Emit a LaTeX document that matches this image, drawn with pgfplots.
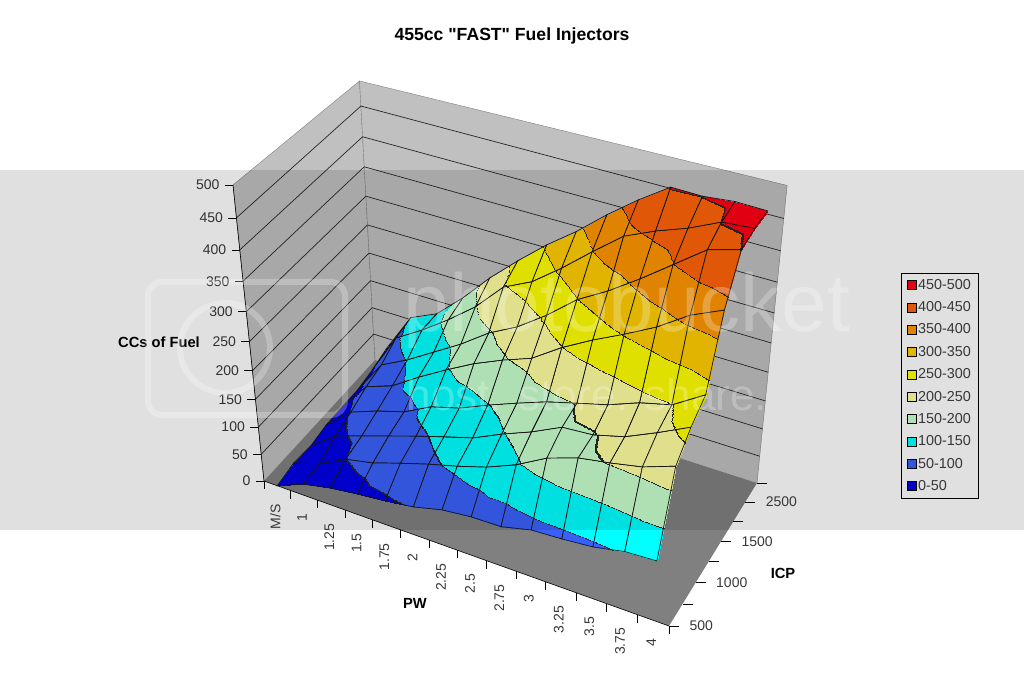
\documentclass[border=0pt]{standalone}
\usepackage{fontspec}
\setmainfont{Liberation Sans}[Ligatures=TeXOff]
\usepackage{pgfplots}
\usepackage{pgfplotstable}
\pgfplotsset{compat=1.18}

\definecolor{wall}{RGB}{192,192,192}
\definecolor{floorgray}{RGB}{128,128,128}
\definecolor{ticktext}{RGB}{55,55,55}

% fuel surface: p = PW category (M/S,1,...,4), q = ICP series, fuel in cc
\pgfplotstableread{
p q fuel
0 7 31
1 7 104
2 7 126
3 7 170
4 7 220
5 7 264
6 7 305
7 7 341
8 7 382
9 7 419
10 7 452
11 7 451
12 7 456
13 7 455
0 6 20
1 6 96
2 6 126
3 6 160
4 6 198
5 6 247
6 6 271
7 6 308
8 6 349
9 6 388
10 6 410
11 6 428
12 6 451
13 6 455
0 5 13
1 5 77
2 5 102
3 5 132
4 5 162
5 5 197
6 5 223
7 5 258
8 5 299
9 5 328
10 5 362
11 5 399
12 5 436
13 5 450
0 4 13
1 4 68
2 4 86
3 4 118
4 4 147
5 4 174
6 4 196
7 4 215
8 4 249
9 4 277
10 4 302
11 4 329
12 4 363
13 4 386
0 3 12
1 3 53
2 3 72
3 3 87
4 3 113
5 3 127
6 3 149
7 3 169
8 3 188
9 3 202
10 3 216
11 3 236
12 3 249
13 3 282
0 2 5
1 2 42
2 2 59
3 2 76
4 2 93
5 2 109
6 2 124
7 2 148
8 2 169
9 2 194
10 2 198
11 2 212
12 2 236
13 2 262
0 1 8
1 1 24
2 1 50
3 1 61
4 1 78
5 1 94
6 1 108
7 1 124
8 1 146
9 1 175
10 1 193
11 1 202
12 1 213
13 1 232
0 0 0
1 0 21
2 0 32
3 0 39
4 0 45
5 0 52
6 0 65
7 0 71
8 0 72
9 0 85
10 0 88
11 0 93
12 0 104
13 0 107
}\fueltable

% wall outlines in box coordinates
\pgfplotstableread{
u v w
0 0 0
0 0 1
0 1 0.98
0 1 0
}\leftwall
\pgfplotstableread{
u v w
0 1 0
0 1 0.98
1 1 1
1 1 0
}\backwall
\pgfplotstableread{
u v w
0 0 0
1 0 0
1 1 0
0 1 0
}\floorpoly
\pgfplotstableread{
u v w
0 0 1
0 0 0
1 0 0
}\axisframe
\pgfplotstableread{
u v
0 0
0 1
1 1
}\gridpath
\pgfplotstableread{
d e
0 0
8 0
}\tickeight
\pgfplotstableread{
d e
0 0
10 0
}\tickten

\begin{document}
\begin{tikzpicture}[declare function={
  den(\u,\v,\w)=1-0.08518*\u+0.07983*\v-0.11*\w;
  sx(\u,\v,\w)=(348.01*\u+140.94*\v-56.63*\w+264)/den(\u,\v,\w);
  sy(\u,\v,\w)=700-(91.68*\u-92.26*\v-316.35*\w+481)/den(\u,\v,\w);
}]
\begin{axis}[
  scale only axis, width=1024pt, height=700pt,
  xmin=0, xmax=1024, ymin=0, ymax=700,
  view={0}{90}, hide axis,
  point meta min=0, point meta max=500,
  colormap={bands}{
    rgb255(0pt)=(0,0,230) rgb255(49.5pt)=(0,0,230)
    rgb255(49.51pt)=(40,40,40) rgb255(50.5pt)=(40,40,40)
    rgb255(50.51pt)=(57,97,250) rgb255(99.5pt)=(57,97,250)
    rgb255(99.51pt)=(40,40,40) rgb255(100.5pt)=(40,40,40)
    rgb255(100.51pt)=(0,255,255) rgb255(149.5pt)=(0,255,255)
    rgb255(149.51pt)=(40,40,40) rgb255(150.5pt)=(40,40,40)
    rgb255(150.51pt)=(200,255,205) rgb255(199.5pt)=(200,255,205)
    rgb255(199.51pt)=(40,40,40) rgb255(200.5pt)=(40,40,40)
    rgb255(200.51pt)=(255,255,160) rgb255(249.5pt)=(255,255,160)
    rgb255(249.51pt)=(40,40,40) rgb255(250.5pt)=(40,40,40)
    rgb255(250.51pt)=(255,255,0) rgb255(299.5pt)=(255,255,0)
    rgb255(299.51pt)=(40,40,40) rgb255(300.5pt)=(40,40,40)
    rgb255(300.51pt)=(255,205,0) rgb255(349.5pt)=(255,205,0)
    rgb255(349.51pt)=(40,40,40) rgb255(350.5pt)=(40,40,40)
    rgb255(350.51pt)=(255,150,0) rgb255(399.5pt)=(255,150,0)
    rgb255(399.51pt)=(40,40,40) rgb255(400.5pt)=(40,40,40)
    rgb255(400.51pt)=(255,100,10) rgb255(449.5pt)=(255,100,10)
    rgb255(449.51pt)=(40,40,40) rgb255(450.5pt)=(40,40,40)
    rgb255(450.51pt)=(255,0,20) rgb255(500pt)=(255,0,20)
  },
  legend style={at={(axis cs:901,427)}, anchor=north west, draw=black, fill={rgb,255:red,224;green,224;blue,224},
    font=\fontsize{14.4}{16}\selectfont, text=ticktext, row sep=6.8pt, inner xsep=5.5pt, inner ysep=4pt,
    legend cell align=left},
  legend image code/.code={\draw[#1] (0pt,-4.5pt) rectangle (9pt,4.5pt);},
]

% keep the page at the full 1024x700
\draw[draw=none] (axis cs:0,0) rectangle (axis cs:1024,700);

% walls and floor
\addplot[forget plot, fill=wall, draw=gray] table[x expr={sx(\thisrow{u},\thisrow{v},\thisrow{w})}, y expr={sy(\thisrow{u},\thisrow{v},\thisrow{w})}] {\leftwall};
\addplot[forget plot, fill=wall, draw=gray] table[x expr={sx(\thisrow{u},\thisrow{v},\thisrow{w})}, y expr={sy(\thisrow{u},\thisrow{v},\thisrow{w})}] {\backwall};
\addplot[forget plot, fill=floorgray, draw=none] table[x expr={sx(\thisrow{u},\thisrow{v},\thisrow{w})}, y expr={sy(\thisrow{u},\thisrow{v},\thisrow{w})}] {\floorpoly};

% value grid on the walls, ticks and labels of the vertical axis
\pgfplotsinvokeforeach{50,100,...,450}{
  \addplot[forget plot, black!85, line width=0.7pt] table[x expr={sx(\thisrow{u},\thisrow{v},#1/500)}, y expr={sy(\thisrow{u},\thisrow{v},#1/500)}] {\gridpath};
}
\pgfplotsinvokeforeach{0,50,...,500}{
  \addplot[forget plot, black, line width=0.6pt] table[x expr={sx(0,0,#1/500)-\thisrow{d}}, y expr={sy(0,0,#1/500)}] {\tickeight};
  \node[anchor=east, text=ticktext, font=\fontsize{14}{16}\selectfont] at (axis cs:{sx(0,0,#1/500)-10},{sy(0,0,#1/500)}) {#1};
}
\addplot[forget plot, black, line width=0.6pt] table[x expr={sx(\thisrow{u},\thisrow{v},\thisrow{w})}, y expr={sy(\thisrow{u},\thisrow{v},\thisrow{w})}] {\axisframe};

% ticks of the two floor axes
\pgfplotsinvokeforeach{0,1,...,14}{
  \addplot[forget plot, black, line width=0.6pt] table[x expr={sx(#1/14,0,0)}, y expr={sy(#1/14,0,0)-\thisrow{d}}] {\tickeight};
}
\pgfplotsinvokeforeach{0,1,...,7}{
  \addplot[forget plot, black, line width=0.6pt] table[x expr={sx(1,#1/7,0)+\thisrow{d}}, y expr={sy(1,#1/7,0)}] {\tickten};
}

% fuel surface
\addplot3[forget plot, surf, shader=faceted interp, faceted color=black!90, line width=0.7pt,
  z buffer=none, mesh/cols=14, mesh/rows=8, point meta=\thisrow{fuel}]
  table[x expr={sx((\thisrow{p}+0.5)/14,\thisrow{q}/7,\thisrow{fuel}/500)},
        y expr={sy((\thisrow{p}+0.5)/14,\thisrow{q}/7,\thisrow{fuel}/500)}, z expr=0] {\fueltable};

% grey band across the middle of the picture
\addplot[forget plot, fill=black, fill opacity=0.12, draw=none] coordinates {(0,170) (1024,170) (1024,530) (0,530)};

% tick labels
\node[anchor=east, rotate=90, text=ticktext, font=\fontsize{14}{16}\selectfont] at (axis cs:{sx(0.5/14,0,0)-2},{sy(0.5/14,0,0)-15}) {M/S};
\node[anchor=east, rotate=90, text=ticktext, font=\fontsize{14}{16}\selectfont] at (axis cs:{sx(1.5/14,0,0)-2},{sy(1.5/14,0,0)-15}) {1};
\node[anchor=east, rotate=90, text=ticktext, font=\fontsize{14}{16}\selectfont] at (axis cs:{sx(2.5/14,0,0)-2},{sy(2.5/14,0,0)-15}) {1.25};
\node[anchor=east, rotate=90, text=ticktext, font=\fontsize{14}{16}\selectfont] at (axis cs:{sx(3.5/14,0,0)-2},{sy(3.5/14,0,0)-15}) {1.5};
\node[anchor=east, rotate=90, text=ticktext, font=\fontsize{14}{16}\selectfont] at (axis cs:{sx(4.5/14,0,0)-2},{sy(4.5/14,0,0)-15}) {1.75};
\node[anchor=east, rotate=90, text=ticktext, font=\fontsize{14}{16}\selectfont] at (axis cs:{sx(5.5/14,0,0)-2},{sy(5.5/14,0,0)-15}) {2};
\node[anchor=east, rotate=90, text=ticktext, font=\fontsize{14}{16}\selectfont] at (axis cs:{sx(6.5/14,0,0)-2},{sy(6.5/14,0,0)-15}) {2.25};
\node[anchor=east, rotate=90, text=ticktext, font=\fontsize{14}{16}\selectfont] at (axis cs:{sx(7.5/14,0,0)-2},{sy(7.5/14,0,0)-15}) {2.5};
\node[anchor=east, rotate=90, text=ticktext, font=\fontsize{14}{16}\selectfont] at (axis cs:{sx(8.5/14,0,0)-2},{sy(8.5/14,0,0)-15}) {2.75};
\node[anchor=east, rotate=90, text=ticktext, font=\fontsize{14}{16}\selectfont] at (axis cs:{sx(9.5/14,0,0)-2},{sy(9.5/14,0,0)-15}) {3};
\node[anchor=east, rotate=90, text=ticktext, font=\fontsize{14}{16}\selectfont] at (axis cs:{sx(10.5/14,0,0)-2},{sy(10.5/14,0,0)-15}) {3.25};
\node[anchor=east, rotate=90, text=ticktext, font=\fontsize{14}{16}\selectfont] at (axis cs:{sx(11.5/14,0,0)-2},{sy(11.5/14,0,0)-15}) {3.5};
\node[anchor=east, rotate=90, text=ticktext, font=\fontsize{14}{16}\selectfont] at (axis cs:{sx(12.5/14,0,0)-2},{sy(12.5/14,0,0)-15}) {3.75};
\node[anchor=east, rotate=90, text=ticktext, font=\fontsize{14}{16}\selectfont] at (axis cs:{sx(13.5/14,0,0)-2},{sy(13.5/14,0,0)-15}) {4};
\node[anchor=west, text=ticktext, font=\fontsize{14}{16}\selectfont] at (axis cs:{sx(1,0,0)+17},{sy(1,0,0)}) {500};
\node[anchor=west, text=ticktext, font=\fontsize{14}{16}\selectfont] at (axis cs:{sx(1,2/7,0)+17},{sy(1,2/7,0)}) {1000};
\node[anchor=west, text=ticktext, font=\fontsize{14}{16}\selectfont] at (axis cs:{sx(1,4/7,0)+17},{sy(1,4/7,0)}) {1500};
\node[anchor=west, text=ticktext, font=\fontsize{14}{16}\selectfont] at (axis cs:{sx(1,6/7,0)+17},{sy(1,6/7,0)}) {2500};

\node[font=\bfseries\fontsize{17.6}{20}\selectfont] at (axis cs:512,664) {455cc "FAST" Fuel Injectors};
\node[font=\bfseries\fontsize{14.7}{16}\selectfont] at (axis cs:159,358) {CCs of Fuel};
\node[font=\bfseries\fontsize{14.7}{16}\selectfont] at (axis cs:415,97) {PW};
\node[font=\bfseries\fontsize{14.7}{16}\selectfont] at (axis cs:783,127) {ICP};

% watermark
\node[anchor=west, text=white, text opacity=0.25, font=\fontsize{82}{84}\selectfont] at (axis cs:400,390) {photobucket};
\node[anchor=west, text=white, text opacity=0.25, font=\fontsize{44}{46}\selectfont] at (axis cs:403,305) {host. store. share.};
\draw[white, opacity=0.25, line width=6pt, rounded corners=14pt] (axis cs:148,285) rectangle (axis cs:345,418);
\draw[white, opacity=0.25, line width=6pt] (axis cs:225,352) circle[radius=45pt];

% legend
\addlegendimage{draw=black, fill={rgb,255:red,224;green,0;blue,18}}
\addlegendentry{450-500}
\addlegendimage{draw=black, fill={rgb,255:red,224;green,88;blue,9}}
\addlegendentry{400-450}
\addlegendimage{draw=black, fill={rgb,255:red,224;green,132;blue,0}}
\addlegendentry{350-400}
\addlegendimage{draw=black, fill={rgb,255:red,224;green,180;blue,0}}
\addlegendentry{300-350}
\addlegendimage{draw=black, fill={rgb,255:red,224;green,224;blue,0}}
\addlegendentry{250-300}
\addlegendimage{draw=black, fill={rgb,255:red,224;green,224;blue,141}}
\addlegendentry{200-250}
\addlegendimage{draw=black, fill={rgb,255:red,176;green,224;blue,180}}
\addlegendentry{150-200}
\addlegendimage{draw=black, fill={rgb,255:red,0;green,224;blue,224}}
\addlegendentry{100-150}
\addlegendimage{draw=black, fill={rgb,255:red,50;green,85;blue,220}}
\addlegendentry{50-100}
\addlegendimage{draw=black, fill={rgb,255:red,0;green,0;blue,202}}
\addlegendentry{0-50}
\end{axis}
\end{tikzpicture}
\end{document}
